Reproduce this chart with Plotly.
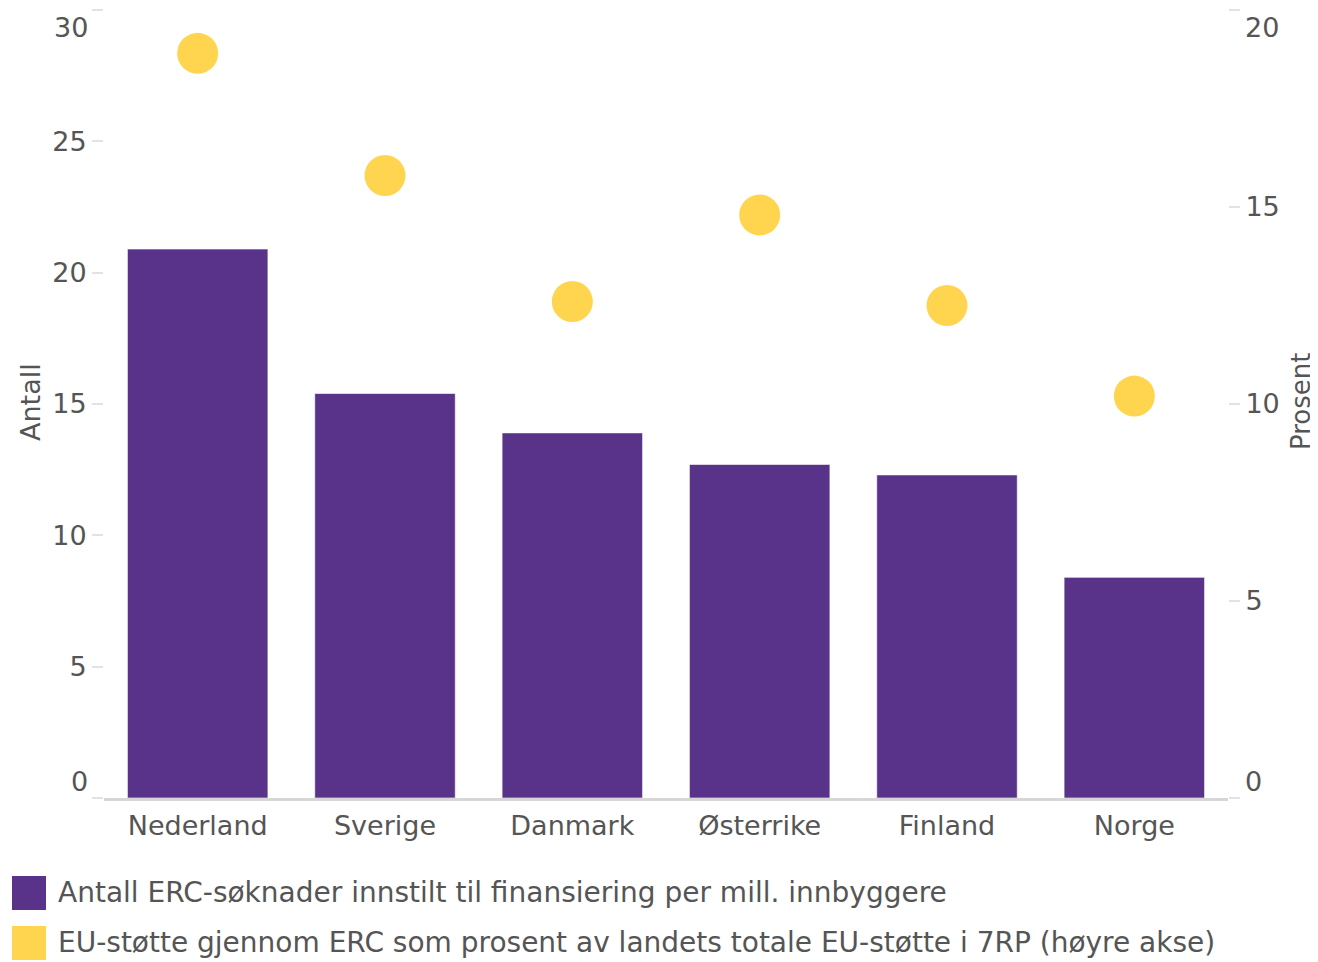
import plotly.graph_objects as go

countries = ["Nederland", "Sverige", "Danmark", "Østerrike", "Finland", "Norge"]
antall = [20.9, 15.4, 13.9, 12.7, 12.3, 8.4]
prosent = [18.9, 15.8, 12.6, 14.8, 12.5, 10.2]
left_ticks = [0, 5, 10, 15, 20, 25, 30]
right_ticks = [0, 5, 10, 15, 20]

bar_name = "Antall ERC-søknader innstilt til finansiering per mill. innbyggere"
dot_name = "EU-støtte gjennom ERC som prosent av landets totale EU-støtte i 7RP (høyre akse)"

PURPLE = "#59338A"
YELLOW = "#FFD54F"
TXT = "#555555"
FONT = "DejaVu Sans"
TICK_SIZE = 27
LEG_SIZE = 28

# page has an 8px body margin; figure drawn at (8, 8)
OFF = 8
W, H = 1318 - OFF, 962 - OFF
PL, PR, PT, PB = 104, 1228, 10, 798  # plot area in page pixels
ML, MR, MT, MB = PL - OFF, W + OFF - PR, PT - OFF, H + OFF - PB
PW, PH = PR - PL, PB - PT


def px_x(px):
    return (px - PL) / PW


def px_y(py):
    return (PB - py) / PH


# Inner tick labels: end labels are drawn separately (shifted inward)
left_text = [str(v) if v not in (left_ticks[0], left_ticks[-1]) else "" for v in left_ticks]
right_text = [str(v) if v not in (right_ticks[0], right_ticks[-1]) else "" for v in right_ticks]

fig = go.Figure()
fig.add_trace(go.Bar(
    x=countries, y=antall, name=bar_name, yaxis="y",
    marker=dict(color=PURPLE, line=dict(color="rgba(255,255,255,0.6)", width=1)),
    showlegend=False,
))
fig.add_trace(go.Scatter(
    x=countries, y=prosent, name=dot_name, yaxis="y2", mode="markers",
    marker=dict(color=YELLOW, size=41),
    showlegend=False,
))

axis_common = dict(
    showgrid=False, zeroline=False, automargin=False,
    ticks="outside", ticklen=11, tickwidth=2, tickcolor="#e2e2e2",
    tickfont=dict(size=TICK_SIZE, color=TXT),
)

fig.update_layout(
    width=W, height=H,
    margin=dict(l=ML, r=MR, t=MT, b=MB),
    paper_bgcolor="white", plot_bgcolor="white",
    font=dict(family=FONT, size=TICK_SIZE, color=TXT),
    bargap=0.25,
    xaxis=dict(
        showline=True, linecolor="#d6d6d6", linewidth=3, automargin=False,
        showgrid=False, ticks="", tickfont=dict(size=TICK_SIZE, color=TXT),
        ticklabelstandoff=2,
    ),
    yaxis=dict(
        range=[0, 30], tickvals=left_ticks, ticktext=left_text,
        **axis_common,
    ),
    yaxis2=dict(
        range=[0, 20], tickvals=right_ticks, ticktext=right_text,
        overlaying="y", side="right",
        **axis_common,
    ),
    showlegend=False,
)

# axis titles
fig.add_annotation(text="Antall", xref="paper", yref="paper", x=px_x(30), y=px_y(402),
                   textangle=-90, showarrow=False, xanchor="center", yanchor="middle",
                   font=dict(size=TICK_SIZE, color=TXT, family=FONT))
fig.add_annotation(text="Prosent", xref="paper", yref="paper", x=px_x(1301), y=px_y(402),
                   textangle=-90, showarrow=False, xanchor="center", yanchor="middle",
                   font=dict(size=26, color=TXT, family=FONT))

# end tick labels, shifted inward like the reference
for val, ax, xpx, anchor, shift in [
    (left_ticks[0], "y", 90, "right", 17),
    (left_ticks[-1], "y", 90, "right", -17),
    (right_ticks[0], "y2", 1243, "left", 17),
    (right_ticks[-1], "y2", 1243, "left", -17),
]:
    fig.add_annotation(text=str(val), xref="paper", yref=ax, x=px_x(xpx), y=val,
                       xanchor=anchor, yanchor="middle", yshift=shift,
                       showarrow=False, font=dict(size=TICK_SIZE, color=TXT, family=FONT))

# custom legend (large square symbols)
legend_items = [(bar_name, PURPLE, 893), (dot_name, YELLOW, 943)]
for text, col, yc in legend_items:
    fig.add_shape(type="rect", xref="paper", yref="paper",
                  x0=px_x(12), x1=px_x(46), y0=px_y(yc + 17), y1=px_y(yc - 17),
                  fillcolor=col, line=dict(width=0), layer="above")
    fig.add_annotation(text=text, xref="paper", yref="paper",
                       x=px_x(56), y=px_y(yc),
                       xanchor="left", yanchor="middle", showarrow=False,
                       font=dict(size=LEG_SIZE, color=TXT, family=FONT))

fig.write_html("out.html")
